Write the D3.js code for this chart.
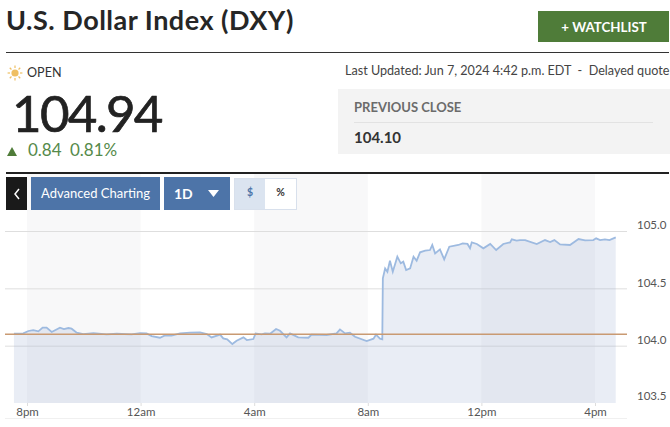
<!DOCTYPE html>
<html><head><meta charset="utf-8">
<script src="https://cdnjs.cloudflare.com/ajax/libs/d3/7.8.5/d3.min.js"></script>
<style>html,body{margin:0;padding:0;background:#fff;overflow:hidden}svg{display:block}text{font-family:Lato,sans-serif}</style>
</head><body><svg id="c" width="670" height="427"></svg>
<script>
// hours since 8pm
const hours = [-0.46,-0.13,0.05,0.22,0.40,0.55,0.69,0.87,1.16,1.30,1.46,1.57,1.75,1.98,2.34,2.80,3.16,3.68,3.98,4.21,4.39,4.68,4.86,5.09,5.39,5.74,6.09,6.33,6.50,6.80,6.91,7.05,7.23,7.38,7.62,7.74,7.97,8.05,8.26,8.38,8.56,8.77,8.91,9.14,9.26,9.55,9.91,10.02,10.55,10.90,11.02,11.20,11.37,11.55,11.96,12.20,12.29,12.43,12.51,12.53,12.61,12.69,12.78,12.88,13.04,13.16,13.25,13.35,13.49,13.61,13.72,13.84,14.02,14.19,14.27,14.37,14.54,14.69,14.87,15.19,15.34,15.51,15.60,15.66,15.84,16.07,16.31,16.52,16.77,17.01,17.07,17.24,17.36,17.54,17.95,18.24,18.42,18.57,18.77,19.12,19.42,19.65,19.94,20.04,20.18,20.35,20.51,20.73];
const prices = [104.104,104.107,104.128,104.136,104.125,104.157,104.157,104.119,104.157,104.145,104.154,104.148,104.113,104.101,104.110,104.098,104.104,104.098,104.110,104.107,104.084,104.069,104.090,104.087,104.107,104.113,104.116,104.101,104.072,104.096,104.063,104.055,104.014,104.043,104.072,104.049,104.058,104.107,104.098,104.107,104.104,104.145,104.130,104.072,104.107,104.072,104.069,104.096,104.093,104.107,104.142,104.107,104.113,104.078,104.040,104.061,104.096,104.061,104.055,104.587,104.674,104.645,104.741,104.645,104.776,104.718,104.732,104.660,104.674,104.776,104.741,104.814,104.828,104.834,104.878,104.805,104.840,104.753,104.863,104.878,104.892,104.887,104.849,104.901,104.887,104.849,104.887,104.834,104.887,104.901,104.927,104.916,104.921,104.921,104.886,104.921,104.904,104.921,104.883,104.878,104.930,104.918,104.921,104.936,104.921,104.927,104.921,104.944];
const previousClose = 104.10;
const xTickHours = [0,4,8,12,16,20];
const xTickLabels = ["8pm","12am","4am","8am","12pm","4pm"];
const yTicks = [103.5,104.0,104.5,105.0];
const bandStarts = [0,8,16];

const svg = d3.select("#c");
const x = d3.scaleLinear().domain([0,20]).range([27,595]);
const y = d3.scaleLinear().domain([103.5,105]).range([403,231]);
const plotTop = 174, plotBase = 403;

// bands
svg.append("g").selectAll("rect").data(bandStarts).join("rect")
  .attr("x",d=>x(d)).attr("width",d=>x(d+4)-x(d)).attr("y",plotTop).attr("height",plotBase-plotTop).attr("fill","#f8f8f9");

// grid
svg.append("g").selectAll("line").data(yTicks.slice(1)).join("line")
  .attr("x1",5).attr("x2",627).attr("y1",d=>y(d)+.5).attr("y2",d=>y(d)+.5).attr("stroke","#dedede");

// area + line
const pts = d3.zip(hours,prices);
svg.append("path").datum(pts).attr("fill","#8fa5cf").attr("fill-opacity",.2)
  .attr("d",d3.area().x(d=>x(d[0])).y0(plotBase).y1(d=>y(d[1])));
svg.append("path").datum(pts).attr("fill","none").attr("stroke","#9dbae0").attr("stroke-width",1.8)
  .attr("d",d3.line().x(d=>x(d[0])).y(d=>y(d[1])));
svg.append("line").attr("x1",5).attr("x2",627).attr("y1",y(previousClose)).attr("y2",y(previousClose))
  .attr("stroke","#c99a72").attr("stroke-width",1.5);

// axes
const xAxis = d3.axisBottom(x).tickValues(xTickHours).tickFormat((d,i)=>xTickLabels[i]).tickSize(3).tickPadding(2);
const gx = svg.append("g").attr("transform",`translate(0,${plotBase})`).call(xAxis);
gx.select(".domain").remove();
gx.selectAll("line").attr("stroke","#ddd");
gx.selectAll("text").attr("fill","#555").attr("font-size",11.5).style("font-family","Lato");
const yAxis = d3.axisRight(y).tickValues(yTicks).tickFormat(d3.format(".1f")).tickSize(0).tickPadding(0);
const gy = svg.append("g").attr("transform","translate(637,0)").call(yAxis);
gy.select(".domain").remove();
gy.selectAll("text").attr("fill","#555").attr("font-size",11.5).attr("dy",d=>d===103.5?"-0.3em":"-0.2em").style("font-family","Lato");
svg.append("line").attr("x1",5).attr("x2",627).attr("y1",418.5).attr("y2",418.5).attr("stroke","#f0f0f0");

// header
function t(str,px,py,size,fill,weight,extra){
  const e=svg.append("text").attr("x",px).attr("y",py).attr("font-size",size).attr("fill",fill).attr("font-weight",weight||400).text(str);
  if(extra) extra(e); return e;
}
t("U.S. Dollar Index (DXY)",6,30,27,"#262626",700,e=>e.attr("letter-spacing",.5));
svg.append("rect").attr("x",538).attr("y",11).attr("width",131).attr("height",31).attr("fill","#4f7c39");
t("+ WATCHLIST",604,32,13.3,"#fff",700,e=>e.attr("text-anchor","middle"));
svg.append("line").attr("x1",6).attr("x2",669).attr("y1",52.5).attr("y2",52.5).attr("stroke","#333").attr("stroke-width",1.2);

// sun
const sun = svg.append("g").attr("transform","translate(15,73)");
sun.append("circle").attr("r",3.6).attr("fill","#efbf62");
d3.range(8).forEach(i=>{const a=i*Math.PI/4;sun.append("line").attr("x1",5*Math.cos(a)).attr("y1",5*Math.sin(a)).attr("x2",7.4*Math.cos(a)).attr("y2",7.4*Math.sin(a)).attr("stroke","#efbf62").attr("stroke-width",1.2);});
t("OPEN",27,77,12.6,"#333");
t("104.94",12,132,51,"#222",400,e=>e.attr("letter-spacing",-1.7).attr("stroke","#222").attr("stroke-width",.7));
svg.append("path").attr("d","M7,156L12,147L17,156Z").attr("fill","#4f7c39");
t("0.84",28,155.5,17,"#558a4a");
t("0.81%",70,155.5,17,"#558a4a");
t("Last Updated: Jun 7, 2024 4:42 p.m. EDT  -  Delayed quote",345,75,12.6,"#444",400,e=>e.style("white-space","pre"));
svg.append("rect").attr("x",338).attr("y",89).attr("width",332).attr("height",65).attr("fill","#f3f3f3");
t("PREVIOUS CLOSE",354,112,13,"#6b6b6b",700);
svg.append("line").attr("x1",354).attr("x2",653).attr("y1",122.5).attr("y2",122.5).attr("stroke","#e2e2e2");
t("104.10",354,143,15,"#333",700);
svg.append("line").attr("x1",6).attr("x2",669).attr("y1",173).attr("y2",173).attr("stroke","#222").attr("stroke-width",2);

// toolbar
svg.append("rect").attr("x",6).attr("y",177).attr("width",21).attr("height",33).attr("fill","#1a1a1a");
svg.append("path").attr("d","M19,189L15,194L19,199").attr("fill","none").attr("stroke","#fff").attr("stroke-width",1.5);
svg.append("rect").attr("x",31).attr("y",177).attr("width",129).attr("height",33).attr("fill","#4d74a8");
t("Advanced Charting",95.5,198,13,"#fff",400,e=>e.attr("text-anchor","middle"));
svg.append("rect").attr("x",164).attr("y",177).attr("width",66).attr("height",33).attr("fill","#4d74a8");
t("1D",174,199,14,"#fff",700);
svg.append("path").attr("d","M208,190L219,190L213.5,197Z").attr("fill","#fff");
svg.append("rect").attr("x",234.5).attr("y",178.5).attr("width",62).attr("height",31).attr("fill","#fff").attr("stroke","#d8e0ec");
svg.append("rect").attr("x",235).attr("y",179).attr("width",30).attr("height",30).attr("fill","#dbe4f0");
t("$",250,196,10.5,"#4d74a8",700,e=>e.attr("text-anchor","middle"));
t("%",280.5,196,10.5,"#333",700,e=>e.attr("text-anchor","middle"));
</script></body></html>
